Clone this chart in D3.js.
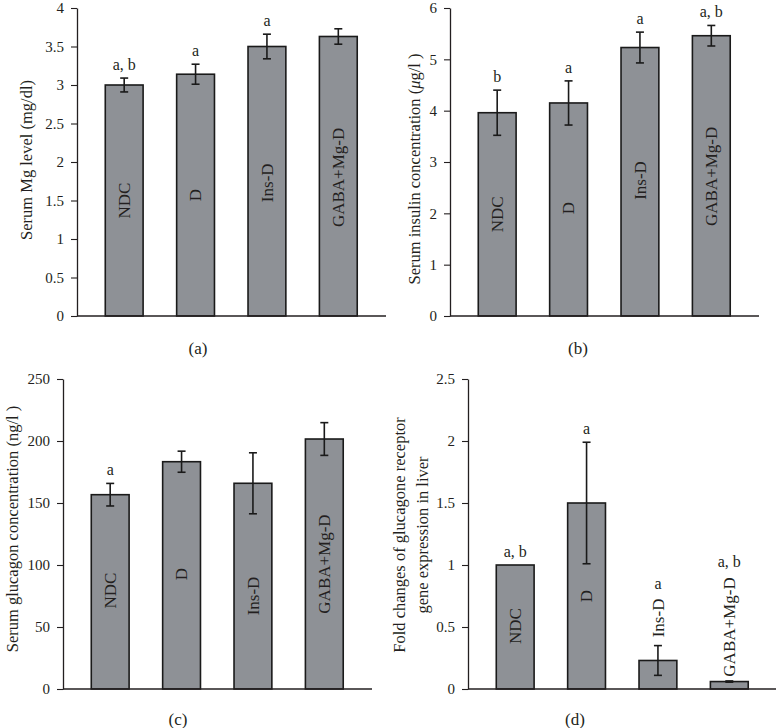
<!DOCTYPE html>
<html>
<head>
<meta charset="utf-8">
<script src="https://cdn.jsdelivr.net/npm/d3@7"></script>
<style>
  body { margin: 0; background: #fff; }
  text { font-family: "Liberation Serif", "Times New Roman", serif; fill: #231f20; }
</style>
</head>
<body>
<div class="graph"></div>
<script>
// groups shown on every panel
const groups = ["NDC", "D", "Ins-D", "GABA+Mg-D"];

// (a) serum Mg
const mgMean = [3.00, 3.14, 3.50, 3.63];
const mgErr = [0.09, 0.13, 0.16, 0.10];
const mgSig = ["a, b", "a", "a", ""];
const mgTicks = [0, 0.5, 1, 1.5, 2, 2.5, 3, 3.5, 4];

// (b) serum insulin
const insulinMean = [3.96, 4.15, 5.23, 5.46];
const insulinErr = [0.44, 0.43, 0.30, 0.20];
const insulinSig = ["b", "a", "a", "a, b"];
const insulinTicks = [0, 1, 2, 3, 4, 5, 6];

// (c) serum glucagon
const glucagonMean = [156.7, 183.3, 165.9, 201.6];
const glucagonErr = [9.1, 8.5, 24.6, 13.2];
const glucagonSig = ["a", "", "", ""];
const glucagonTicks = [0, 50, 100, 150, 200, 250];

// (d) glucagon receptor expression
const foldMean = [1.0, 1.5, 0.23, 0.06];
const foldErr = [0, 0.49, 0.12, 0.005];
const foldSig = ["a, b", "a", "a", "a, b"];
const foldTicks = [0, 0.5, 1, 1.5, 2, 2.5];

let svg = d3.select(".graph").append("svg")
  .attr("width", 776)
  .attr("height", 728);

// layout for each panel (pixels), labelAt = where the group name sits, in data units
let panels = [
  { mean: mgMean, err: mgErr, sig: mgSig, ticks: mgTicks,
    ax: 77, top: 8, bottom: 316, caption: "(a)", capX: 198, capY: 354,
    title: ["Serum Mg level (mg/dl)"], titleX: [27], titleY: 160,
    labelAt: [1.50, 1.57, 1.73, 1.80] },
  { mean: insulinMean, err: insulinErr, sig: insulinSig, ticks: insulinTicks,
    ax: 450, top: 8, bottom: 316, caption: "(b)", capX: 578, capY: 354,
    title: null, titleX: [415], titleY: 169,
    labelAt: [1.98, 2.10, 2.64, 2.72] },
  { mean: glucagonMean, err: glucagonErr, sig: glucagonSig, ticks: glucagonTicks,
    ax: 63, top: 379, bottom: 689, caption: "(c)", capX: 178, capY: 725,
    title: ["Serum glucagon concentration (ng/l )"], titleX: [13], titleY: 529,
    labelAt: [79.4, 92.7, 75, 100.8] },
  { mean: foldMean, err: foldErr, sig: foldSig, ticks: foldTicks,
    ax: 468, top: 379, bottom: 689, caption: "(d)", capX: 575, capY: 725,
    title: ["Fold changes of glucagone receptor", "gene expression in liver"],
    titleX: [400, 423], titleY: 535,
    labelAt: [0.508, 0.75, 0.573, 0.5] }
];

function drawPanel(p) {
  let g = svg.append("g");

  let x = d3.scaleBand()
    .domain(groups)
    .range([p.ax + 11.5, p.ax + 297])
    .paddingInner(0.47)
    .paddingOuter(0.235);

  let y = d3.scaleLinear()
    .domain([0, d3.max(p.ticks)])
    .range([p.bottom, p.top]);

  // y axis
  let yAxis = g.append("g")
    .attr("transform", "translate(" + p.ax + ",0)")
    .call(d3.axisLeft(y).tickValues(p.ticks).tickSize(6).tickSizeOuter(0).tickPadding(7)
      .tickFormat(d => String(d)));
  yAxis.select(".domain").attr("stroke", "#231f20").attr("stroke-width", 1.3);
  yAxis.selectAll(".tick line").attr("stroke", "#231f20").attr("stroke-width", 1.1);
  yAxis.selectAll(".tick text")
    .style("font-family", "Liberation Serif, serif")
    .style("font-size", "15px")
    .attr("fill", "#231f20");

  let data = groups.map((name, i) => ({
    name: name, value: p.mean[i], err: p.err[i], sig: p.sig[i], at: p.labelAt[i]
  }));

  // bars
  g.selectAll(".bar")
    .data(data)
    .join("rect")
    .attr("class", "bar")
    .attr("x", d => x(d.name))
    .attr("y", d => y(d.value))
    .attr("width", x.bandwidth())
    .attr("height", d => y(0) - y(d.value))
    .attr("fill", "#8e9196")
    .attr("stroke", "#1a1a1a")
    .attr("stroke-width", 1.6);

  // x axis line
  g.append("line")
    .attr("x1", p.ax).attr("x2", p.ax + 309)
    .attr("y1", y(0)).attr("y2", y(0))
    .attr("stroke", "#231f20").attr("stroke-width", 1.3);

  // error bars
  let eb = g.selectAll(".err")
    .data(data.filter(d => d.err > 0))
    .join("g")
    .attr("class", "err")
    .attr("stroke", "#1a1a1a")
    .attr("stroke-width", 1.6);
  let cx = d => x(d.name) + x.bandwidth() / 2;
  eb.append("line")
    .attr("x1", cx).attr("x2", cx)
    .attr("y1", d => y(d.value + d.err)).attr("y2", d => y(d.value - d.err));
  eb.append("line")
    .attr("x1", d => cx(d) - 4).attr("x2", d => cx(d) + 4)
    .attr("y1", d => y(d.value + d.err)).attr("y2", d => y(d.value + d.err));
  eb.append("line")
    .attr("x1", d => cx(d) - 4).attr("x2", d => cx(d) + 4)
    .attr("y1", d => y(d.value - d.err)).attr("y2", d => y(d.value - d.err));

  // group names inside the bars
  let names = g.selectAll(".name")
    .data(data)
    .join("text")
    .attr("class", "name")
    .attr("transform", d => "translate(" + cx(d) + "," + y(d.at) + ") rotate(-90)")
    .attr("text-anchor", "middle")
    .attr("dy", "0.33em")
    .style("font-size", "17px")
    .text(d => d.name);

  // significance letters, kept above both the error bar and the group name
  names.each(function(d) {
    let half = this.getComputedTextLength() / 2;
    d.labelTop = y(d.at) - half;
  });
  g.selectAll(".sig")
    .data(data.filter(d => d.sig))
    .join("text")
    .attr("class", "sig")
    .attr("x", cx)
    .attr("y", d => Math.min(y(d.value + d.err) - 8, d.labelTop - 10))
    .attr("text-anchor", "middle")
    .style("font-size", "16px")
    .text(d => d.sig);

  // y title
  if (p.title) {
    p.title.forEach((line, i) => {
      g.append("text")
        .attr("transform", "translate(" + p.titleX[i] + "," + p.titleY + ") rotate(-90)")
        .attr("text-anchor", "middle")
        .attr("dy", "0.33em")
        .style("font-size", "16.5px")
        .text(line);
    });
  } else {
    let t = g.append("text")
      .attr("transform", "translate(" + p.titleX[0] + "," + p.titleY + ") rotate(-90)")
      .attr("text-anchor", "middle")
      .attr("dy", "0.33em")
      .style("font-size", "16.5px");
    t.append("tspan").text("Serum insulin concentration (");
    t.append("tspan").style("font-style", "italic").text("\u03bc");
    t.append("tspan").text("g/l )");
  }

  // panel caption
  g.append("text")
    .attr("x", p.capX)
    .attr("y", p.capY)
    .attr("text-anchor", "middle")
    .style("font-size", "17px")
    .text(p.caption);
}

panels.forEach(drawPanel);
</script>
</body>
</html>
